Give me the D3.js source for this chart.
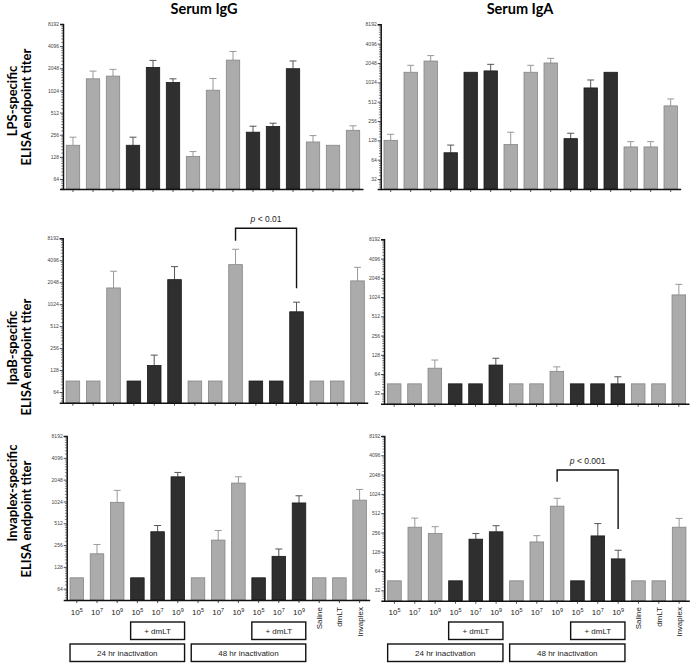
<!DOCTYPE html>
<html>
<head>
<meta charset="utf-8">
<script src="https://cdn.jsdelivr.net/npm/d3@7"></script>
<style>
  html, body { margin: 0; padding: 0; background: #fff; }
  svg { display: block; }
</style>
</head>
<body>
<svg id="chart" width="691" height="663"></svg>
<script>
// ---------------- DATA ----------------
const categories = ["24h 10^5","24h 10^7","24h 10^9","24h+dmLT 10^5","24h+dmLT 10^7","24h+dmLT 10^9",
                    "48h 10^5","48h 10^7","48h 10^9","48h+dmLT 10^5","48h+dmLT 10^7","48h+dmLT 10^9",
                    "Saline","dmLT","Invaplex"];
const withDmLT = [0,0,0,1,1,1,0,0,0,1,1,1,0,0,0];
const doseExponent = ["5","7","9","5","7","9","5","7","9","5","7","9"];
const controlLabels = ["Saline","dmLT","Invaplex"];
const leftTicks = [64,128,256,512,1024,2048,4096,8192];
const rightTicks = [32,64,128,256,512,1024,2048,4096,8192];
const columnTitles = ["Serum IgG","Serum IgA"];
const rowTitles = [["LPS-specific","ELISA endpoint titer"],["IpaB-specific","ELISA endpoint titer"],["Invaplex-specific","ELISA endpoint titer"]];
const groupBoxes = ["+ dmLT","+ dmLT","24 hr inactivation","48 hr inactivation"];

// geometric mean titers and upper error (mean + SEM); null = no error bar
const lpsIgG    = [184,1473,1604,184,2106,1314,130,1031,2647,277,331,2021,204,184,294];
const lpsIgGErr = [237,1875,1980,237,2623,1473,151,1489,3467,334,367,2574,249,null,338];
const lpsIgA    = [128,1468,2195,82,1468,1541,110,1468,2048,136,837,1468,101,101,440];
const lpsIgAErr = [159,1884,2666,108,null,1950,171,1884,2420,165,1113,null,122,122,564];
const ipabIgG    = [90.5,90.5,1709,90.5,148,2221,90.5,90.5,3566,90.5,90.5,805,90.5,90.5,2136];
const ipabIgGErr = [null,null,2896,null,205,3350,null,null,5793,null,null,1090,null,null,3280];
const ipabIgA    = [45,45,79,45,45,88.5,45,45,70.6,45,45,45,45,45,1106];
const ipabIgAErr = [null,null,106,null,null,113,null,null,83,null,null,58,null,null,1619];
const invIgG    = [90.5,194,996,90.5,391,2240,90.5,300,1835,90.5,179,976,90.5,90.5,1068];
const invIgGErr = [null,261,1457,null,477,2575,null,407,2240,null,226,1226,null,null,1500];
const invIgA    = [45,309,246,45,201,262,45,182,658,45,226,99,45,45,309];
const invIgAErr = [null,428,315,null,246,326,null,228,874,null,352,135,null,null,424];

const significance = [
  {panel: 2, from: 8, to: 11, text: "0.01", leftDrop: 240.7, rightDrop: 288.3, top: 228.3},
  {panel: 5, from: 8, to: 11, text: "0.001", leftDrop: 481.7, rightDrop: 529, top: 470}
];

// ---------------- LAYOUT ----------------
const panels = [
  {vals: lpsIgG,  err: lpsIgGErr,  ticks: leftTicks,  x0: 63,    w: 300, top: 24,    low: 179,   base: 189,   row: 0, col: 0},
  {vals: lpsIgA,  err: lpsIgAErr,  ticks: rightTicks, x0: 380.7, w: 300, top: 24.3,  low: 179,   base: 189,   row: 0, col: 1},
  {vals: ipabIgG, err: ipabIgGErr, ticks: leftTicks,  x0: 62.7,  w: 305, top: 238.3, low: 392,   base: 402.7, row: 1, col: 0},
  {vals: ipabIgA, err: ipabIgAErr, ticks: rightTicks, x0: 384,   w: 305, top: 239.3, low: 393.3, base: 403.7, row: 1, col: 1},
  {vals: invIgG,  err: invIgGErr,  ticks: leftTicks,  x0: 66.7,  w: 303, top: 436,   low: 588.7, base: 600,   row: 2, col: 0},
  {vals: invIgA,  err: invIgAErr,  ticks: rightTicks, x0: 384.3, w: 305, top: 436,   low: 590.3, base: 600.7, row: 2, col: 1}
];

const LIGHT = "#ababab", LIGHT_STROKE = "#858585", DARK = "#2f2f2f", DARK_STROKE = "#1a1a1a";
const svg = d3.select("#chart");

// column titles
svg.selectAll("text.coltitle").data(columnTitles).join("text")
  .attr("x", (d,i) => i === 0 ? 204 : 520).attr("y", 14)
  .attr("text-anchor", "middle")
  .style("font-family", "Lato, 'Open Sans', sans-serif").style("font-weight", "bold").style("font-size", "14.5px")
  .text(d => d);

// row titles
const rowLinePos = [[101,107],[348,357],[493,519]];
rowTitles.forEach((lines, r) => {
  lines.forEach((t, li) => {
    const cx = li === 0 ? 11.5 : 25.5, cy = rowLinePos[r][li];
    svg.append("text")
      .attr("transform", `translate(${cx},${cy}) rotate(-90)`)
      .attr("text-anchor", "middle").attr("dominant-baseline", "central")
      .style("font-family", "Lato, 'Open Sans', sans-serif").style("font-weight", "bold").style("font-size", "13px")
      .text(t);
  });
});

const scales = [];
panels.forEach((p, pi) => {
  const g = svg.append("g");
  const x = d3.scaleBand().domain(categories).range([p.x0, p.x0 + p.w]).paddingInner(0.33).paddingOuter(0.165);
  const tmp = d3.scaleLog().base(2).domain([p.ticks[0], 8192]).range([p.low, p.top]);
  const y = d3.scaleLog().base(2).domain([tmp.invert(p.base), 8192]).range([p.base, p.top]);
  scales.push({x, y});

  // error bars (upward only)
  const errData = categories.map((c, i) => ({c, v: p.vals[i], e: p.err[i], dark: withDmLT[i]})).filter(d => d.e != null);
  const eg = g.selectAll("g.err").data(errData).join("g");
  eg.append("line")
    .attr("x1", d => x(d.c) + x.bandwidth()/2).attr("x2", d => x(d.c) + x.bandwidth()/2)
    .attr("y1", d => y(d.v)).attr("y2", d => y(d.e))
    .attr("stroke", d => d.dark ? "#555" : "#999").attr("stroke-width", 1);
  eg.append("line")
    .attr("x1", d => x(d.c) + x.bandwidth()/2 - 3.5).attr("x2", d => x(d.c) + x.bandwidth()/2 + 3.5)
    .attr("y1", d => y(d.e)).attr("y2", d => y(d.e))
    .attr("stroke", d => d.dark ? "#555" : "#999").attr("stroke-width", 1);

  // bars
  g.selectAll("rect.bar").data(categories.map((c, i) => ({c, v: p.vals[i], dark: withDmLT[i]}))).join("rect")
    .attr("x", d => x(d.c)).attr("width", x.bandwidth())
    .attr("y", d => y(d.v)).attr("height", d => p.base - y(d.v))
    .attr("fill", d => d.dark ? DARK : LIGHT)
    .attr("stroke", d => d.dark ? DARK_STROKE : LIGHT_STROKE).attr("stroke-width", 0.8);

  // minor y ticks
  const minor = [];
  const [dmin] = y.domain();
  for (let k = 4; k < 13; k++) {
    for (let i = 1; i < 8; i++) {
      const v = Math.pow(2, k) * (1 + i / 8);
      if (v >= dmin && v <= 8192) minor.push(v);
    }
  }
  g.selectAll("line.minor").data(minor).join("line")
    .attr("x1", p.x0 - 1.8).attr("x2", p.x0).attr("y1", d => y(d)).attr("y2", d => y(d))
    .attr("stroke", "#333").attr("stroke-width", 0.6);

  // y axis
  const ya = g.append("g").attr("transform", `translate(${p.x0},0)`)
    .call(d3.axisLeft(y).tickValues(p.ticks).tickFormat(d3.format("d")).tickSize(3).tickPadding(1));
  ya.select(".domain").attr("stroke", "#111").attr("stroke-width", 1.5);
  ya.selectAll(".tick line").attr("stroke", "#222").attr("stroke-width", 0.8);
  ya.selectAll(".tick text").style("font-family", "'Liberation Sans', Arial, sans-serif").style("font-size", "5px").attr("fill", "#444");

  // x axis
  const xa = g.append("g").attr("transform", `translate(0,${p.base})`)
    .call(d3.axisBottom(x).tickSize(3).tickSizeOuter(0).tickFormat(""));
  xa.select(".domain").attr("stroke", "#111").attr("stroke-width", 1.5);
  xa.selectAll(".tick line").attr("stroke", "#222").attr("stroke-width", 0.8);

  // bottom row labels
  if (p.row === 2) {
    const font = "'Liberation Sans', Arial, sans-serif";
    const dl = g.selectAll("text.dose").data(categories.slice(0, 12)).join("text")
      .attr("x", d => x(d) + x.bandwidth()/2).attr("y", 615)
      .attr("text-anchor", "middle")
      .style("font-family", font).style("font-size", "8px").attr("fill", "#222");
    dl.append("tspan").text("10");
    dl.append("tspan").attr("dy", -3).style("font-size", "5.5px").text((d, i) => doseExponent[i]);

    g.selectAll("text.ctrl").data(categories.slice(12)).join("text")
      .attr("transform", d => `translate(${x(d) + x.bandwidth()/2 + 3},607) rotate(-90)`)
      .attr("text-anchor", "end")
      .style("font-family", font).style("font-size", "8px").attr("fill", "#222")
      .text((d, i) => controlLabels[i]);

    const boxes = [
      {a: 3, b: 5, y0: 622, y1: 639.5, t: groupBoxes[0]},
      {a: 9, b: 11, y0: 622, y1: 639.5, t: groupBoxes[1]},
      {a: 0, b: 5, y0: 644, y1: 661.5, t: groupBoxes[2]},
      {a: 6, b: 11, y0: 644, y1: 661.5, t: groupBoxes[3]}
    ];
    boxes.forEach(bx => {
      const xl = x(categories[bx.a]), xr = x(categories[bx.b]) + x.bandwidth();
      g.append("rect").attr("x", xl).attr("y", bx.y0).attr("width", xr - xl).attr("height", bx.y1 - bx.y0)
        .attr("fill", "#fff").attr("stroke", "#111").attr("stroke-width", 1.4);
      g.append("text").attr("x", (xl + xr)/2).attr("y", (bx.y0 + bx.y1)/2).attr("dy", "0.35em")
        .attr("text-anchor", "middle").style("font-family", font).style("font-size", "8px").attr("fill", "#222")
        .text(bx.t);
    });
  }
});

// significance brackets
significance.forEach(s => {
  const {x} = scales[s.panel];
  const xa = x(categories[s.from]) + x.bandwidth()/2, xb = x(categories[s.to]) + x.bandwidth()/2;
  svg.append("path")
    .attr("d", `M${xa},${s.leftDrop}V${s.top}H${xb}V${s.rightDrop}`)
    .attr("fill", "none").attr("stroke", "#111").attr("stroke-width", 1.4);
  const t = svg.append("text").attr("x", (xa + xb)/2).attr("y", s.top - 6)
    .attr("text-anchor", "middle")
    .style("font-family", "'Liberation Sans', Arial, sans-serif").style("font-size", "8.5px").attr("fill", "#222");
  t.append("tspan").style("font-style", "italic").text("p");
  t.append("tspan").text(" < " + s.text);
});
</script>
</body>
</html>
